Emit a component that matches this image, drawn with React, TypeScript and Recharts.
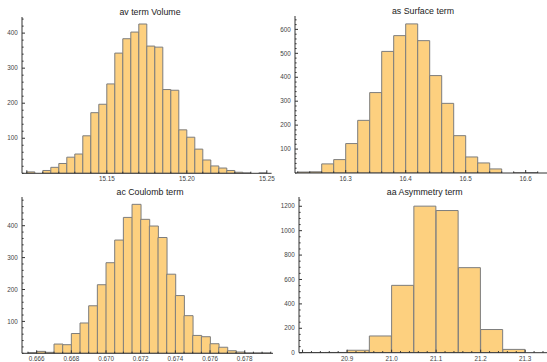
import React from 'react';
import { BarChart, Bar, XAxis, YAxis } from 'recharts';

// ---------- av term Volume ----------
const avBinStarts = [
  15.100, 15.105, 15.110, 15.115, 15.120, 15.125, 15.130, 15.135, 15.140, 15.145,
  15.150, 15.155, 15.160, 15.165, 15.170, 15.175, 15.180, 15.185, 15.190, 15.195,
  15.200, 15.205, 15.210, 15.215, 15.220, 15.225, 15.230, 15.235, 15.240, 15.245,
];
const avCounts = [
  4, 0, 8, 17, 28, 46, 55, 107, 173, 197,
  255, 343, 384, 403, 426, 363, 360, 239, 237, 124,
  103, 69, 38, 21, 15, 8, 3, 1, 0, 1,
];
const avBinWidth = 0.005;
const avXMajor = [15.10, 15.15, 15.20, 15.25];
const avXLabels = ['', '15.15', '15.20', '15.25'];
const avYMajor = [100, 200, 300, 400];
const avYLabels = ['100', '200', '300', '400'];

// ---------- as Surface term ----------
const asBinStarts = [
  16.22, 16.24, 16.26, 16.28, 16.30, 16.32, 16.34, 16.36, 16.38, 16.40,
  16.42, 16.44, 16.46, 16.48, 16.50, 16.52, 16.54, 16.56, 16.58, 16.60,
];
const asCounts = [
  4, 5, 38, 56, 123, 220, 336, 508, 574, 623,
  553, 407, 291, 156, 67, 42, 17, 0, 1, 2,
];
const asBinWidth = 0.02;
const asXMajor = [16.3, 16.4, 16.5, 16.6];
const asXLabels = ['16.3', '16.4', '16.5', '16.6'];
const asYMajor = [100, 200, 300, 400, 500, 600];
const asYLabels = ['100', '200', '300', '400', '500', '600'];

// ---------- ac Coulomb term ----------
const acBinStarts = [
  0.6655, 0.6660, 0.6665, 0.6670, 0.6675, 0.6680, 0.6685, 0.6690, 0.6695, 0.6700,
  0.6705, 0.6710, 0.6715, 0.6720, 0.6725, 0.6730, 0.6735, 0.6740, 0.6745, 0.6750,
  0.6755, 0.6760, 0.6765, 0.6770, 0.6775, 0.6780, 0.6785, 0.6790,
];
const acCounts = [
  2, 6, 3, 29, 27, 62, 95, 149, 215, 284,
  355, 426, 467, 420, 399, 363, 248, 181, 118, 56,
  52, 30, 19, 8, 4, 1, 1, 1,
];
const acBinWidth = 0.0005;
const acXMajor = [0.666, 0.668, 0.670, 0.672, 0.674, 0.676, 0.678];
const acXLabels = ['0.666', '0.668', '0.670', '0.672', '0.674', '0.676', '0.678'];
const acYMajor = [100, 200, 300, 400];
const acYLabels = ['100', '200', '300', '400'];

// ---------- aa Asymmetry term ----------
const aaBinStarts = [20.80, 20.85, 20.90, 20.95, 21.00, 21.05, 21.10, 21.15, 21.20, 21.25];
const aaCounts = [1, 2, 20, 137, 552, 1201, 1165, 697, 190, 27];
const aaBinWidth = 0.05;
const aaXMajor = [20.8, 20.9, 21.0, 21.1, 21.2, 21.3];
const aaXLabels = ['', '20.9', '21.0', '21.1', '21.2', '21.3'];
const aaYMajor = [0, 200, 400, 600, 800, 1000, 1200];
const aaYLabels = ['0', '200', '400', '600', '800', '1000', '1200'];

const FONT = '"Liberation Sans", Arial, Helvetica, sans-serif';
const AXIS = '#333333';
const LABEL = '#444444';
const FILL = '#fdd07f';
const EDGE = '#7d7d7d';

function minorTicks(domain: [number, number], step: number): number[] {
  const out: number[] = [];
  const k0 = Math.ceil(domain[0] / step - 1e-9);
  const k1 = Math.floor(domain[1] / step + 1e-9);
  for (let k = k0; k <= k1; k++) out.push(k * step);
  return out;
}

function findMajor(v: number, majors: number[], tol: number): number {
  return majors.findIndex((m) => Math.abs(m - v) < tol);
}

interface PanelProps {
  title: string;
  starts: number[];
  counts: number[];
  binWidth: number;
  xDomain: [number, number];
  yDomain: [number, number];
  xMajor: number[];
  xLabels: string[];
  xMinor: number;
  yMajor: number[];
  yLabels: string[];
  yMinor: number;
  left: number;
  top: number;
  width: number;
  yAxisW: number;
  marginTop: number;
  marginRight: number;
  xAxisH: number;
  titleX: number;
  titleY: number;
}

function Panel(p: PanelProps) {
  const data = p.starts.map((s, i) => ({ mid: s + p.binWidth / 2, count: p.counts[i] }));
  const xTicks = minorTicks(p.xDomain, p.xMinor);
  const yTicks = minorTicks(p.yDomain, p.yMinor);
  const xTol = p.xMinor * 1e-3;
  const yTol = p.yMinor * 1e-3;

  const XTick = (props: any) => {
    const { x, y, payload } = props;
    const idx = findMajor(payload.value, p.xMajor, xTol);
    const len = idx >= 0 ? 3 : 1.6;
    return (
      <g>
        <line x1={x} x2={x} y1={y} y2={y - len} stroke={AXIS} strokeWidth={1} />
        {idx >= 0 && p.xLabels[idx] ? (
          <text x={x} y={y + 8} textAnchor="middle" fontSize={6.3} fontFamily={FONT} fill={LABEL}>
            {p.xLabels[idx]}
          </text>
        ) : null}
      </g>
    );
  };

  const YTick = (props: any) => {
    const { x, y, payload } = props;
    const idx = findMajor(payload.value, p.yMajor, yTol);
    const len = idx >= 0 ? 3 : 1.6;
    return (
      <g>
        <line x1={x} x2={x + len} y1={y} y2={y} stroke={AXIS} strokeWidth={1} />
        {idx >= 0 && p.yLabels[idx] ? (
          <text x={x - 4.3} y={y + 2.2} textAnchor="end" fontSize={6.3} fontFamily={FONT} fill={LABEL}>
            {p.yLabels[idx]}
          </text>
        ) : null}
      </g>
    );
  };

  return (
    <div style={{ position: 'absolute', left: p.left, top: p.top, width: p.width, height: 181 }}>
      <BarChart
        width={p.width}
        height={181}
        data={data}
        margin={{ top: p.marginTop, right: p.marginRight, left: 0, bottom: 0 }}
        barCategoryGap={0}
        barGap={0}
      >
        <XAxis
          type="number"
          dataKey="mid"
          domain={p.xDomain}
          allowDataOverflow
          ticks={xTicks}
          interval={0}
          height={p.xAxisH}
          tickSize={0}
          tickMargin={0}
          tickLine={false}
          axisLine={{ stroke: AXIS, strokeWidth: 1 }}
          tick={XTick}
        />
        <YAxis
          type="number"
          domain={p.yDomain}
          allowDataOverflow
          ticks={yTicks}
          interval={0}
          width={p.yAxisW}
          tickSize={0}
          tickMargin={0}
          tickLine={false}
          axisLine={{ stroke: AXIS, strokeWidth: 1 }}
          tick={YTick}
        />
        <Bar dataKey="count" fill={FILL} stroke={EDGE} strokeWidth={1} isAnimationActive={false} />
      </BarChart>
      <div
        style={{
          position: 'absolute',
          left: p.titleX - 100,
          top: p.titleY - 5,
          width: 200,
          textAlign: 'center',
          fontFamily: FONT,
          fontSize: 8.8,
          lineHeight: '10px',
          color: '#222',
          whiteSpace: 'nowrap',
        }}
      >
        {p.title}
      </div>
    </div>
  );
}

export default function App() {
  return (
    <div style={{ position: 'relative', width: 547, height: 362, background: '#fff', overflow: 'hidden' }}>
      <style>{`body{margin:0}.recharts-surface{overflow:visible}`}</style>
      <Panel
        title="av term Volume"
        starts={avBinStarts}
        counts={avCounts}
        binWidth={avBinWidth}
        xDomain={[15.097, 15.253]}
        yDomain={[0, 446]}
        xMajor={avXMajor}
        xLabels={avXLabels}
        xMinor={0.01}
        yMajor={avYMajor}
        yLabels={avYLabels}
        yMinor={20}
        left={0}
        top={0}
        width={273}
        yAxisW={22}
        marginTop={17}
        marginRight={1.4}
        xAxisH={7.7}
        titleX={150}
        titleY={11.5}
      />
      <Panel
        title="as Surface term"
        starts={asBinStarts}
        counts={asCounts}
        binWidth={asBinWidth}
        xDomain={[16.2155, 16.6355]}
        yDomain={[0, 656]}
        xMajor={asXMajor}
        xLabels={asXLabels}
        xMinor={0.02}
        yMajor={asYMajor}
        yLabels={asYLabels}
        yMinor={20}
        left={273}
        top={0}
        width={274}
        yAxisW={22}
        marginTop={16}
        marginRight={0}
        xAxisH={8}
        titleX={150}
        titleY={11}
      />
      <Panel
        title="ac Coulomb term"
        starts={acBinStarts}
        counts={acCounts}
        binWidth={acBinWidth}
        xDomain={[0.665154, 0.67963]}
        yDomain={[0, 490]}
        xMajor={acXMajor}
        xLabels={acXLabels}
        xMinor={0.0005}
        yMajor={acYMajor}
        yLabels={acYLabels}
        yMinor={20}
        left={0}
        top={181}
        width={273}
        yAxisW={22}
        marginTop={16}
        marginRight={0}
        xAxisH={8.7}
        titleX={150}
        titleY={10.5}
      />
      <Panel
        title="aa Asymmetry term"
        starts={aaBinStarts}
        counts={aaCounts}
        binWidth={aaBinWidth}
        xDomain={[20.792, 21.349]}
        yDomain={[0, 1276]}
        xMajor={aaXMajor}
        xLabels={aaXLabels}
        xMinor={0.02}
        yMajor={aaYMajor}
        yLabels={aaYLabels}
        yMinor={50}
        left={273}
        top={181}
        width={274}
        yAxisW={26}
        marginTop={16}
        marginRight={0}
        xAxisH={9.3}
        titleX={151.7}
        titleY={11}
      />
    </div>
  );
}
